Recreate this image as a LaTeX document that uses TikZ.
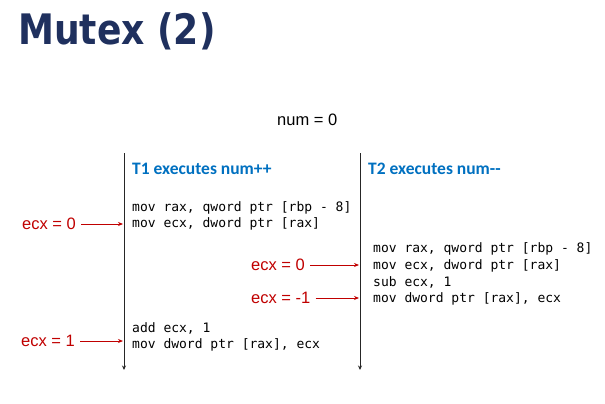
\documentclass[tikz,border=0pt]{standalone}
\usepackage{fontspec}
\setmainfont{Liberation Sans}
\newfontfamily\titlefont{DejaVu Sans}
\newfontfamily\headfont{Carlito}
\newfontfamily\codefont{DejaVu Sans Mono}
\usetikzlibrary{arrows.meta}
\definecolor{titlenavy}{RGB}{31,48,94}
\definecolor{headblue}{RGB}{0,112,192}
\definecolor{ecxred}{RGB}{192,0,0}
\begin{document}
\begin{tikzpicture}[x=1pt,y=-1pt,
  codeline/.style={anchor=west,inner sep=0pt,font=\codefont\fontsize{13}{15}\selectfont},
  headline/.style={anchor=west,inner sep=0pt,text=headblue,font=\headfont\bfseries\fontsize{17.5}{20}\selectfont},
  ecxlabel/.style={anchor=west,inner sep=0pt,text=ecxred,font=\fontsize{16.5}{19}\selectfont},
  redarrow/.style={draw=ecxred,line width=0.9pt,-{Stealth[length=5pt,width=4pt]}},
  timeline/.style={draw=black!85,line width=1pt,-{Stealth[length=4.5pt,width=4pt]}}]
\useasboundingbox (0,0) rectangle (605,404);
% title
\node[anchor=base west,inner sep=0pt,text=titlenavy] (title) at (18,45)
  {\scalebox{0.86}[1]{\titlefont\bfseries\fontsize{42}{48}\selectfont Mutex (2)}};
\node[anchor=west,inner sep=0pt,font=\fontsize{16.5}{19}\selectfont] (num) at (277,120) {num = 0};
% timelines
\coordinate (t1top) at (124,153);
\coordinate (t1bot) at (124,370);
\coordinate (t2top) at (360,153);
\coordinate (t2bot) at (360,370);
\draw[timeline] (t1top) -- (t1bot);
\draw[timeline] (t2top) -- (t2bot);
% headings
\node[headline] (h1) at (132,169) {T1 executes num++};
\node[headline] (h2) at (368,169) {T2 executes num-{}-};
% T1 code
\node[codeline] (a1) at (132,207.5) {mov rax, qword ptr [rbp - 8]};
\node[codeline] (a2) at (132,224) {mov ecx, dword ptr [rax]};
\node[codeline] (a3) at (132,328) {add ecx, 1};
\node[codeline] (a4) at (132,344.5) {mov dword ptr [rax], ecx};
% T2 code
\node[codeline] (b1) at (373,249) {mov rax, qword ptr [rbp - 8]};
\node[codeline] (b2) at (373,265.5) {mov ecx, dword ptr [rax]};
\node[codeline] (b3) at (373,282.5) {sub ecx, 1};
\node[codeline] (b4) at (373,299) {mov dword ptr [rax], ecx};
% ecx labels
\node[ecxlabel] (e1) at (22,224) {ecx = 0};
\node[ecxlabel] (e2) at (251,265) {ecx = 0};
\node[ecxlabel] (e3) at (251,298) {ecx = -1};
\node[ecxlabel] (e4) at (21,341) {ecx = 1};
\draw[redarrow] ([xshift=5pt]e1.east) -- ([xshift=-1pt]e1.east -| t1top);
\draw[redarrow] ([xshift=5pt]e2.east) -- ([xshift=-1pt]e2.east -| t2top);
\draw[redarrow] ([xshift=5pt]e3.east) -- ([xshift=-1pt]e3.east -| t2top);
\draw[redarrow] ([xshift=5pt]e4.east) -- ([xshift=-1pt]e4.east -| t1top);
\end{tikzpicture}
\end{document}
